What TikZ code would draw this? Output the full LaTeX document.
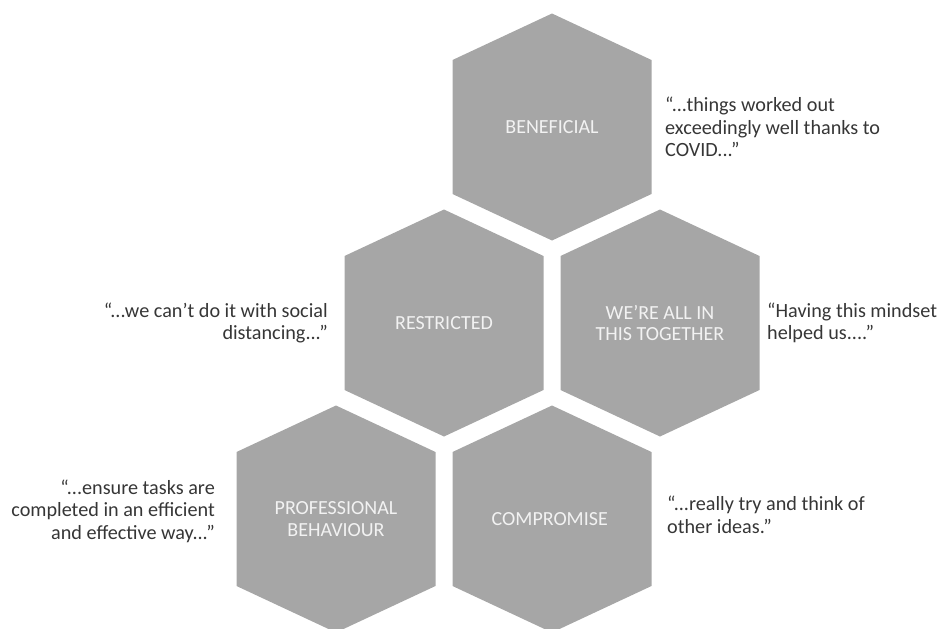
\documentclass[tikz,border=0pt]{standalone}
\usepackage{fontspec}
\setmainfont{Carlito}
\usepackage{tikz}
\definecolor{hexgray}{HTML}{A6A6A6}
\definecolor{quotegray}{HTML}{363636}
\tikzset{
  hexlabel/.style={align=center,text=white!95!black,inner sep=0pt,
    font=\fontsize{20}{21.5}\selectfont},
  quote/.style={text=quotegray,inner sep=0pt,font=\fontsize{20.2}{22.5}\selectfont},
}

\begin{document}
\begin{tikzpicture}[x=1pt,y=-1pt,line join=round]
\useasboundingbox (0,0) rectangle (940,629);
\clip (0,0) rectangle (940,629);
% honeycomb: centre x / centre y / name / label
\foreach \cx/\cy/\name/\t in {
552/127/ben/BENEFICIAL,
444/323/res/RESTRICTED,
660/323/tog/{WE’RE ALL IN\\THIS TOGETHER},
336/519/pro/{PROFESSIONAL\\BEHAVIOUR},
552/519/com/COMPROMISE
} {
  \fill[hexgray,shift={(\cx,\cy)}] (0,-113.5) -- (99.5,-67) -- (99.5,67)
    -- (0,113.5) -- (-99.5,67) -- (-99.5,-67) -- cycle;
  \node[hexlabel] (\name) at (\cx,\cy) {\t};
}
% quotes beside the cells
\node[quote,anchor=west,align=left] (q-ben) at ([xshift=113pt]ben.center)
  {“...things worked out\\exceedingly well thanks to\\COVID...”};
\node[quote,anchor=east,align=right] (q-res) at ([xshift=-116pt]res.center)
  {“...we can’t do it with social\\distancing...”};
\node[quote,anchor=west,align=left] (q-tog) at ([xshift=107pt]tog.center)
  {“Having this mindset\\helped us....”};
\node[quote,anchor=east,align=right] (q-pro) at ([xshift=-121pt,yshift=8pt]pro.center)
  {“...ensure tasks are\\completed in an efficient\\and effective way...”};
\node[quote,anchor=west,align=left] (q-com) at ([xshift=115pt,yshift=4pt]com.center)
  {“...really try and think of\\other ideas.”};
\end{tikzpicture}
\end{document}
